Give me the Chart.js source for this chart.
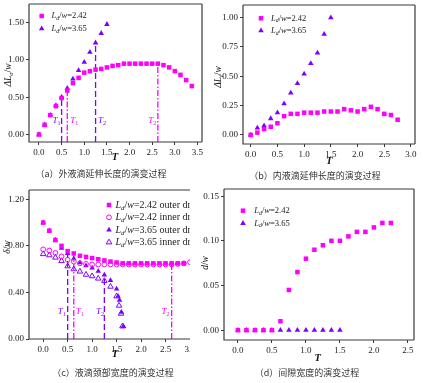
<!DOCTYPE html>
<html><head><meta charset="utf-8">
<script src="https://cdn.jsdelivr.net/npm/chart.js@4/dist/chart.umd.min.js"></script>
<style>
html,body{margin:0;padding:0;background:#fff;width:423px;height:383px;overflow:hidden}
.wrap{position:absolute;overflow:hidden}
canvas{display:block}
.cap{position:absolute;font-family:"Noto Sans CJK SC";font-size:9px;line-height:12px;color:#333;white-space:nowrap;transform:translateX(-50%)}
</style></head><body>
<div class="wrap" style="left:0;top:0;width:212px;height:168px"><canvas id="ca" width="212" height="168"></canvas></div>
<div class="wrap" style="left:212px;top:0;width:211px;height:168px"><canvas id="cb" width="211" height="168"></canvas></div>
<div class="wrap" style="left:0;top:184px;width:190px;height:184px"><canvas id="cc" width="200" height="184"></canvas></div>
<div class="wrap" style="left:195px;top:184px;width:228px;height:184px"><canvas id="cd" width="228" height="184"></canvas></div>
<div class="cap" style="left:101px;top:168px">（a）外液滴延伸长度的演变过程</div>
<div class="cap" style="left:315px;top:170px">（b）内液滴延伸长度的演变过程</div>
<div class="cap" style="left:113px;top:367px">（c）液滴颈部宽度的演变过程</div>
<div class="cap" style="left:307px;top:367px">（d）间隙宽度的演变过程</div>
<script>
// ---------- data ----------
const tA242 = [0,0.125,0.25,0.375,0.5,0.625,0.75,0.875,1,1.125,1.25,1.375,1.5,1.625,1.75,1.875,2,2.125,2.25,2.375,2.5,2.625,2.75,2.875,3,3.125,3.25,3.375];
const a242  = [0,0.13,0.26,0.38,0.49,0.59,0.69,0.76,0.83,0.85,0.87,0.88,0.90,0.92,0.93,0.95,0.95,0.95,0.95,0.95,0.95,0.95,0.93,0.90,0.85,0.80,0.73,0.65];
const t365  = [0,0.125,0.25,0.375,0.5,0.625,0.75,0.875,1,1.125,1.25,1.375,1.5];
const a365  = [0,0.13,0.26,0.39,0.50,0.62,0.745,0.86,0.97,1.105,1.23,1.357,1.478];

const tB242 = [0,0.125,0.25,0.375,0.5,0.625,0.75,0.875,1,1.125,1.25,1.375,1.5,1.625,1.75,1.875,2,2.125,2.25,2.375,2.5,2.625,2.75];
const b242  = [0,0.02,0.05,0.07,0.10,0.16,0.18,0.18,0.19,0.19,0.19,0.20,0.20,0.20,0.22,0.21,0.20,0.22,0.24,0.22,0.18,0.17,0.13];
const b365  = [0,0.06,0.08,0.14,0.19,0.267,0.358,0.44,0.52,0.61,0.70,0.86,1.00];

const tC242out = [0,0.125,0.25,0.375,0.5,0.625,0.75,0.875,1,1.125,1.25,1.375,1.5,1.625,1.75,1.875,2,2.125,2.25,2.375,2.5,2.625,2.75,2.875];
const c242out  = [1.00,0.93,0.85,0.80,0.755,0.735,0.715,0.705,0.695,0.685,0.675,0.665,0.657,0.65,0.65,0.65,0.65,0.65,0.65,0.65,0.65,0.65,0.65,0.65];
const tC242in  = [0,0.125,0.25,0.375,0.5,0.625,0.75,0.875,1,1.125,1.25,1.375,1.5,1.625,1.75,1.875,2,2.125,2.25,2.375,2.5,2.625,2.75,2.875,3];
const c242in   = [0.77,0.76,0.74,0.71,0.68,0.665,0.65,0.645,0.64,0.64,0.64,0.64,0.64,0.64,0.64,0.64,0.64,0.64,0.64,0.64,0.64,0.64,0.645,0.65,0.66];
const tC365out = [0,0.125,0.25,0.375,0.5,0.625,0.75,0.875,1,1.125,1.25,1.375,1.5,1.53,1.56,1.6,1.64];
const c365out  = [1.00,0.93,0.85,0.78,0.735,0.69,0.655,0.63,0.61,0.583,0.551,0.503,0.43,0.368,0.333,0.23,0.109];
const tC365in  = [0,0.125,0.25,0.375,0.5,0.625,0.75,0.875,1,1.125,1.25,1.375,1.5,1.55,1.59,1.62];
const c365in   = [0.73,0.72,0.70,0.67,0.625,0.60,0.58,0.553,0.54,0.52,0.50,0.45,0.367,0.287,0.218,0.109];

const tD242 = [0,0.125,0.25,0.375,0.5,0.625,0.75,0.875,1,1.125,1.25,1.375,1.5,1.625,1.75,1.875,2,2.125,2.25];
const d242  = [0,0,0,0,0,0.01,0.045,0.065,0.08,0.09,0.095,0.10,0.10,0.105,0.11,0.11,0.115,0.12,0.12];
const d365  = [0,0,0,0,0,0,0,0,0,0,0,0,0];

// characteristic times [T, top value]
const markA = {T1_365:[0.5,0.50], T1_242:[0.625,0.59], T2_365:[1.25,1.23], T2_242:[2.625,0.95]};
const markC = {T1_365:[0.5,0.74], T1_242:[0.625,0.735], T2_365:[1.25,0.55], T2_242:[2.625,0.65]};

const xTicksA = [0,0.5,1,1.5,2,2.5,3,3.5];
const yTicksA = [0,0.5,1,1.5];
const xTicksB = [0,0.5,1,1.5,2,2.5,3];
const yTicksB = [0,0.25,0.5,0.75,1];
const xTicksC = [0,0.5,1,1.5,2,2.5,3];
const yTicksC = [0,0.4,0.8,1.2];
const xTicksD = [0,0.5,1,1.5,2,2.5];
const yTicksD = [0,0.05,0.1,0.15];

// ---------- style ----------
const MAG = '#ff00ff', PUR = '#7f00ff';
const SERIF = '"Liberation Serif","DejaVu Serif",serif';
const pts = (xs, ys) => xs.map((x,i)=>({x, y:ys[i]}));

function vline(T, top, bottom, color, dash){
  return {type:'line', data:[{x:T,y:bottom},{x:T,y:top}], borderColor:color, borderWidth:1.3,
          borderDash:dash, pointRadius:0, showLine:true, order:10, fill:false};
}
function sq(data,color){return {data, pointStyle:'rect', pointRadius:3.2, backgroundColor:color, borderColor:color, borderWidth:0, showLine:false};}
function tri(data,color){return {data, pointStyle:'triangle', pointRadius:3.2, backgroundColor:color, borderColor:color, borderWidth:0, showLine:false};}
function circOpen(data,color){return {data, pointStyle:'circle', pointRadius:2.4, backgroundColor:'rgba(255,255,255,0)', borderColor:color, borderWidth:1, showLine:false};}
function triOpen(data,color){return {data, pointStyle:'triangle', pointRadius:3.2, backgroundColor:'rgba(255,255,255,0)', borderColor:color, borderWidth:1, showLine:false};}

// rich text: parts [text, flags] flags: i italic, b bold, s subscript
function fontOf(p,size){
  const f = p[1]||''; const s = f.includes('s') ? size*0.68 : size;
  return (f.includes('i')?'italic ':'')+(f.includes('b')?'bold ':'')+s.toFixed(1)+'px '+SERIF;
}
function rich(ctx, parts, x, y, size, align){
  const w = parts.reduce((a,p)=>{ctx.font=fontOf(p,size);return a+ctx.measureText(p[0]).width;},0);
  let cx = align==='center'? x - w/2 : x;
  for(const p of parts){
    ctx.font = fontOf(p,size);
    ctx.fillText(p[0], cx, y + ((p[1]||'').includes('s') ? size*0.3 : 0));
    cx += ctx.measureText(p[0]).width;
  }
}

const deco = {
  id:'deco',
  afterDatasetsDraw(chart, args, o){
    const ctx = chart.ctx, ca = chart.chartArea, xs = chart.scales.x, ys = chart.scales.y;
    ctx.save();
    // frame
    ctx.strokeStyle = '#3a3a3a'; ctx.lineWidth = 1.2;
    ctx.beginPath();
    ctx.moveTo(ca.left, ca.top); ctx.lineTo(ca.left, ca.bottom); ctx.lineTo(ca.right, ca.bottom);
    if(o.right!==false){ ctx.moveTo(ca.right, ca.bottom); ctx.lineTo(ca.right, ca.top); }
    ctx.moveTo(ca.left, ca.top); ctx.lineTo(ca.right, ca.top);
    ctx.stroke();
    // T labels
    ctx.textBaseline = 'middle';
    for(const l of (o.labels||[])){
      ctx.fillStyle = l.c;
      rich(ctx, [['T','i'],[l.s,'s']], xs.getPixelForValue(l.x), ys.getPixelForValue(l.y), 9, 'center');
    }
    // legend
    for(const e of (o.legend||[])){
      ctx.fillStyle = e.open ? 'rgba(255,255,255,0)' : e.c;
      ctx.strokeStyle = e.c; ctx.lineWidth = e.open?1:0;
      Chart.helpers.drawPoint(ctx, {pointStyle:e.ps, radius:e.r||3.2, borderWidth:e.open?1:0, rotation:0}, o.lx, e.y);
      ctx.fillStyle = '#222';
      rich(ctx, e.t, o.tx, e.y, o.lf||8.5, 'left');
    }
    // axis titles
    ctx.fillStyle = '#111';
    const yt = o.ytitle;
    ctx.save(); ctx.translate(yt.x, yt.y); ctx.rotate(-Math.PI/2);
    rich(ctx, yt.parts, 0, 0, 9.5, 'center'); ctx.restore();
    rich(ctx, [['T','ib']], o.xtitle.x, o.xtitle.y, 10.5, 'center');
    ctx.restore();
  }
};

function scaleOpts(min,max,ticks,dec,fixW,fixH,axis){
  return {
    type:'linear', min, max,
    afterBuildTicks: s => { s.ticks = ticks.map(v=>({value:v})); },
    afterFit: s => { if(axis==='x'){ s.height = fixH; s.paddingLeft = 0; s.paddingRight = 0; } else { s.width = fixW; s.paddingTop = 0; s.paddingBottom = 0; } },
    grid:{display:true, drawOnChartArea:false, drawTicks:true, tickLength:3, color:'#3a3a3a', lineWidth:1},
    border:{display:false},
    ticks:{font:{family:SERIF, size:9}, color:'#222', padding:2, autoSkip:false, maxRotation:0,
      callback: v => Number(v).toFixed(dec)}
  };
}

function make(id, datasets, sc, pad, decoOpts){
  return new Chart(document.getElementById(id), {
    type:'scatter',
    data:{datasets},
    options:{
      responsive:false, animation:false, devicePixelRatio:1,
      layout:{padding:pad},
      plugins:{legend:{display:false}, tooltip:{enabled:false}, deco:decoOpts},
      scales:sc
    },
    plugins:[deco]
  });
}

const leg242 = [['L','i'],['d','is'],['/','' ],['w','i'],['=2.42','']];
const leg365 = [['L','i'],['d','is'],['/','' ],['w','i'],['=3.65','']];

// ---------- (a) ----------
make('ca', [
  sq(pts(tA242,a242), MAG),
  tri(pts(t365,a365), PUR),
  vline(markA.T1_365[0], markA.T1_365[1], -0.1, PUR, [6,3]),
  vline(markA.T1_242[0], markA.T1_242[1], -0.1, MAG, [6,2,1.5,2]),
  vline(markA.T2_365[0], markA.T2_365[1], -0.1, PUR, [6,3]),
  vline(markA.T2_242[0], markA.T2_242[1], -0.1, MAG, [6,2,1.5,2]),
], {
  x: scaleOpts(-0.22, 3.6, xTicksA, 1, 0, 26, 'x'),
  y: scaleOpts(-0.1, 1.75, yTicksA, 2, 29, 0, 'y')
}, {left:0, top:4, right:10, bottom:0}, {
  labels:[{x:0.39,y:0.18,s:'1',c:PUR},{x:0.78,y:0.18,s:'1',c:MAG},{x:1.39,y:0.18,s:'2',c:PUR},{x:2.5,y:0.18,s:'2',c:MAG}],
  legend:[{ps:'rect',c:MAG,y:16,t:leg242},{ps:'triangle',c:PUR,y:28.7,t:leg365}], lx:41.7, tx:51.5,
  ytitle:{x:8,y:75,parts:[['Δ','i'],['L','i'],['o','is'],['/',''],['w','i']]},
  xtitle:{x:115,y:157}
});

// ---------- (b) ----------
make('cb', [
  sq(pts(tB242,b242), MAG),
  tri(pts(t365,b365), PUR),
], {
  x: scaleOpts(-0.144, 3.075, xTicksB, 1, 0, 24, 'x'),
  y: scaleOpts(-0.077, 1.108, yTicksB, 2, 31, 0, 'y')
}, {left:0, top:5, right:8, bottom:0}, {
  legend:[{ps:'rect',c:MAG,y:18.3,t:leg242},{ps:'triangle',c:PUR,y:30.7,t:leg365}], lx:49, tx:59,
  ytitle:{x:6,y:77,parts:[['Δ','i'],['L','i'],['i','is'],['/',''],['w','i']]},
  xtitle:{x:117.3,y:161}
});

// ---------- (c) ----------  (right part of the panel is cropped at x=190 like the source)
make('cc', [
  sq(pts(tC242out,c242out), MAG),
  circOpen(pts(tC242in,c242in), MAG),
  tri(pts(tC365out,c365out), PUR),
  triOpen(pts(tC365in,c365in), PUR),
  vline(markC.T1_365[0], markC.T1_365[1], 0, PUR, [6,3]),
  vline(markC.T1_242[0], markC.T1_242[1], 0, MAG, [6,2,1.5,2]),
  vline(markC.T2_365[0], markC.T2_365[1], 0, PUR, [6,3]),
  vline(markC.T2_242[0], markC.T2_242[1], 0, MAG, [6,2,1.5,2]),
], {
  x: scaleOpts(-0.29, 3.0, xTicksC, 1, 0, 29, 'x'),
  y: scaleOpts(0, 1.28, yTicksC, 2, 29, 0, 'y')
}, {left:0, top:6, right:10, bottom:0}, {
  right:false,
  labels:[{x:0.38,y:0.232,s:'1',c:PUR},{x:0.75,y:0.232,s:'1',c:MAG},{x:1.16,y:0.232,s:'2',c:PUR},{x:2.5,y:0.232,s:'2',c:MAG}],
  legend:[
    {ps:'rect',c:MAG,y:21,t:leg242.concat([[' outer drop','']])},
    {ps:'circle',c:MAG,y:33.3,open:true,r:2.4,t:leg242.concat([[' inner drop','']])},
    {ps:'triangle',c:PUR,y:46,t:leg365.concat([[' outer drop','']])},
    {ps:'triangle',c:PUR,y:58.3,open:true,t:leg365.concat([[' inner drop','']])}
  ], lx:109, tx:115.5, lf:10,
  ytitle:{x:7,y:63,parts:[['δ','i'],['/',''],['w','i']]},
  xtitle:{x:115,y:170}
});

// ---------- (d) ----------
make('cd', [
  sq(pts(tD242,d242), MAG),
  tri(pts(t365,d365), PUR),
], {
  x: scaleOpts(-0.205, 2.59, xTicksD, 1, 0, 28, 'x'),
  y: scaleOpts(-0.011, 0.158, yTicksD, 2, 29, 0, 'y')
}, {left:0, top:5, right:9, bottom:0}, {
  legend:[{ps:'rect',c:MAG,y:26.7,t:leg242},{ps:'triangle',c:PUR,y:39.3,t:leg365}], lx:48, tx:59.3,
  ytitle:{x:10,y:79,parts:[['d','i'],['/',''],['w','i']]},
  xtitle:{x:122.7,y:174.3}
});
</script>
</body></html>
